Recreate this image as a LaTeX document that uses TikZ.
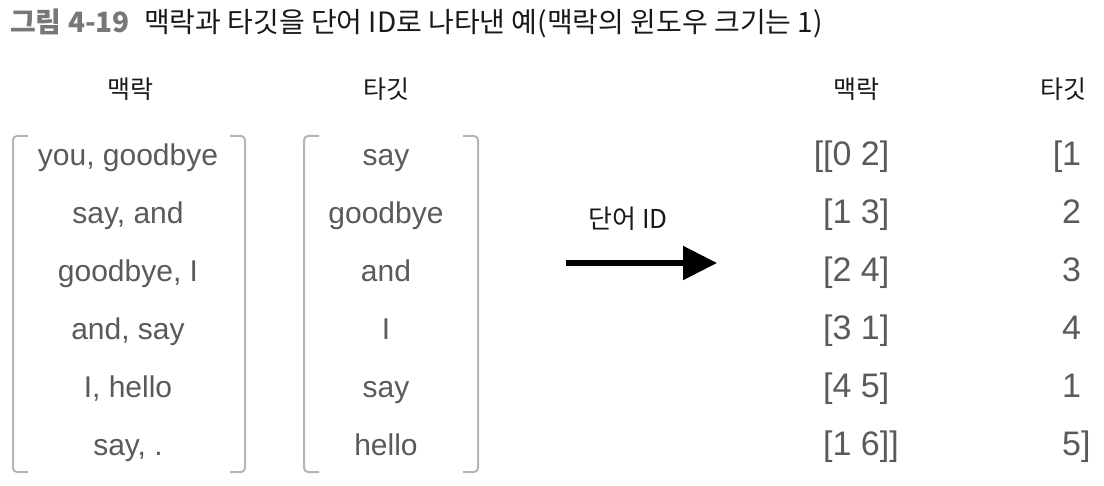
\documentclass[tikz,border=0pt]{standalone}
\usepackage{fontspec}
\setmainfont{Liberation Sans}
\newfontfamily\kr{Noto Sans CJK KR}
\usetikzlibrary{arrows.meta}
\definecolor{wordgray}{HTML}{5A5A5A}
\definecolor{bracketgray}{HTML}{B4B4B4}
\definecolor{titlegray}{HTML}{777777}
\begin{document}
\begin{tikzpicture}
[ x=1pt, y=-1pt
, title/.style={anchor=west, inner sep=0pt, font=\kr\fontsize{28}{32}\selectfont, text=black!90}
, header/.style={inner sep=0pt, text height=0.8em, text depth=0.1em, font=\kr\fontsize{25}{30}\selectfont, text=black!90}
, word/.style={inner sep=0pt, text height=0.75em, text depth=0.0em, font=\fontsize{30}{34}\selectfont, text=wordgray}
, number/.style={anchor=west, inner sep=0pt, text height=0.75em, text depth=0.0em, font=\fontsize{34}{38}\selectfont, text=wordgray}
, bracket/.style={draw=bracketgray, line width=2pt, rounded corners=4pt}
, idarrow/.style={line width=5.5pt, -{Triangle[length=34pt, width=33pt]}}
]
\useasboundingbox (0,0) rectangle (1104,486);
% Title:
\node (title) [title] at (10,23) {{\bfseries\color{titlegray}그림 4-19}\enspace 맥락과 타깃을 단어 ID로 나타낸 예(맥락의 윈도우 크기는 1)};
% Headers:
\node (hctx) [header] at (130,95) {맥락};
\node (htgt) [header] at (386,95) {타깃};
\node (hctxid) [header] at (856,95) {맥락};
\node (htgtid) [header] at (1063,95) {타깃};
% Words:
\foreach \ctx/\tgt [count=\i] in {{you, goodbye}/say, {say, and}/goodbye, {goodbye, I}/and, {and, say}/I, {I, hello}/say, {say, .}/hello}
{
  \node (ctx\i) [word] at (128,104+58*\i) {\ctx};
  \node (tgt\i) [word] at (386,104+58*\i) {\tgt};
}
% IDs:
\foreach \ctx/\tgt [count=\i] in {{\llap{[}[0 2]}/{\llap{[}1}, {[1 3]}/2, {[2 4]}/3, {[3 1]}/4, {[4 5]}/1, {[1 6]]}/{5]}}
{
  \node (ctxid\i) [number] at (823,104+58*\i) {\ctx};
  \node (tgtid\i) [number] at (1062,104+58*\i) {\tgt};
}
% Brackets:
\draw [bracket] (28,136) -- (13,136) -- (13,472) -- (28,472);
\draw [bracket] (230,136) -- (245,136) -- (245,472) -- (230,472);
\draw [bracket] (319,136) -- (304,136) -- (304,472) -- (319,472);
\draw [bracket] (463,136) -- (478,136) -- (478,472) -- (463,472);
% Arrow:
\coordinate (from) at (566,263);
\coordinate (to) at (717,263);
\draw [idarrow] (from) -- (to);
\node (wordid) [header, font=\kr\fontsize{26}{30}\selectfont] at (628,225) {단어 ID};
\end{tikzpicture}
\end{document}
